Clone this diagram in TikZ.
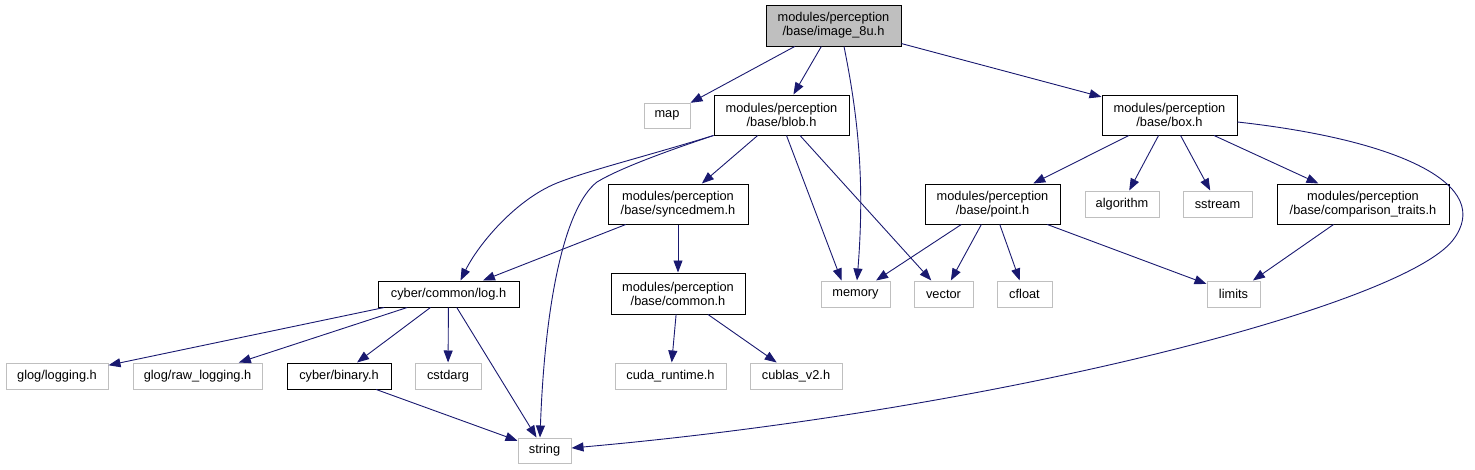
\documentclass[tikz,border=0pt]{standalone}
\usepackage{fontspec}
\setmainfont{Liberation Sans}
\usetikzlibrary{arrows.meta}
\definecolor{edgeblue}{HTML}{191970}
\definecolor{lightgrey}{HTML}{BFBFBF}
\tikzstyle{incl} = [draw=edgeblue, line width=0.9pt, -{Triangle[length=12pt,width=9pt]}]
\tikzstyle{file} = [rectangle, draw=black, line width=1pt, fill=white, inner sep=0pt, minimum height=40pt, align=center, font=\fontsize{12.8}{14}\selectfont]
\tikzstyle{sysfile} = [rectangle, draw=lightgrey, line width=1pt, fill=white, inner sep=0pt, minimum height=26pt, align=center, font=\fontsize{12.8}{14}\selectfont]
\tikzstyle{mainfile} = [file, fill=lightgrey]

\begin{document}
\begin{tikzpicture}[x=1pt, y=-1pt]
\useasboundingbox (0,0) rectangle (1475,469);

% Top file
\node (img) [mainfile, minimum width=135pt, minimum height=41pt] at (833.5,25.5) {modules/perception\\/base/image\_8u.h};

% Second row
\node (map) [sysfile, minimum width=46pt, minimum height=25pt] at (667,115.5) {map};
\node (blob) [file, minimum width=135pt] at (781.5,115) {modules/perception\\/base/blob.h};
\node (box) [file, minimum width=135pt] at (1169.5,115) {modules/perception\\/base/box.h};

% Third row
\node (syncedmem) [file, minimum width=140pt] at (678,204) {modules/perception\\/base/syncedmem.h};
\node (point) [file, minimum width=135pt] at (992.5,204) {modules/perception\\/base/point.h};
\node (algorithm) [sysfile, minimum width=74pt] at (1122,204) {algorithm};
\node (sstream) [sysfile, minimum width=69pt] at (1217.5,204) {sstream};
\node (comptraits) [file, minimum width=172pt] at (1363,204) {modules/perception\\/base/comparison\_traits.h};

% Fourth row
\node (log) [file, minimum width=141pt, minimum height=26pt] at (448.5,294) {cyber/common/log.h};
\node (common) [file, minimum width=134pt, minimum height=41pt] at (678,293.5) {modules/perception\\/base/common.h};
\node (memory) [sysfile, minimum width=69pt] at (855.5,294) {memory};
\node (vector) [sysfile, minimum width=59pt] at (943.5,294) {vector};
\node (cfloat) [sysfile, minimum width=55pt] at (1024.5,294) {cfloat};
\node (limits) [sysfile, minimum width=53pt] at (1233.5,294) {limits};

% Fifth row
\node (logging) [sysfile, minimum width=102pt] at (57,376) {glog/logging.h};
\node (rawlogging) [sysfile, minimum width=129pt] at (197.5,376) {glog/raw\_logging.h};
\node (binary) [file, minimum width=104pt, minimum height=26pt] at (339,376) {cyber/binary.h};
\node (cstdarg) [sysfile, minimum width=66pt] at (448,376) {cstdarg};
\node (cudart) [sysfile, minimum width=111pt] at (670.5,376) {cuda\_runtime.h};
\node (cublas) [sysfile, minimum width=92pt] at (796,376) {cublas\_v2.h};

% Bottom
\node (string) [sysfile, minimum width=53pt, minimum height=25pt] at (544.5,450.5) {string};

% Arrows
\draw [incl] (img) -- (map);
\draw [incl] (img) -- (blob);
\draw [incl] ([xshift=10.5pt]img.south) .. controls (858,116) and (865,181) .. ([xshift=1.5pt]memory.north);
\draw [incl] (img) -- (box);

\draw [incl] (blob.south west) .. controls (640,158) and (590,170) .. (557,183)
  .. controls (515,200) and (478,245) .. ([xshift=12pt]log.north);
\draw [incl] (blob.south west) .. controls (670,150) and (620,168) .. (597,182)
  .. controls (565,207) and (545,300) .. ([xshift=-4.5pt]string.north);
\draw [incl] (blob) -- (syncedmem);
\draw [incl] ([xshift=5pt]blob.south) -- ([xshift=-14pt]memory.north);
\draw [incl] (blob) -- (vector);

\draw [incl] (box) -- (point);
\draw [incl] (box) -- (algorithm);
\draw [incl] (box) -- (sstream);
\draw [incl] (box) -- (comptraits);
\draw [incl] ([yshift=-7pt]box.east) .. controls (1400,140) and (1495,185) .. (1453,240)
  .. controls (1403,305) and (1000,410) .. ([yshift=2.5pt]string.east);

\draw [incl] (syncedmem) -- (log);
\draw [incl] (syncedmem) -- (common);

\draw [incl] (point) -- (memory);
\draw [incl] (point) -- (vector);
\draw [incl] (point) -- (cfloat);
\draw [incl] (point) -- (limits);
\draw [incl] (comptraits) -- (limits);

\draw [incl] (log) -- (logging);
\draw [incl] (log) -- (rawlogging);
\draw [incl] (log) -- (binary);
\draw [incl] (log) -- (cstdarg);
\draw [incl] (log) -- (string);
\draw [incl] (binary) -- (string);

\draw [incl] (common) -- (cudart);
\draw [incl] (common) -- (cublas);

\end{tikzpicture}
\end{document}
